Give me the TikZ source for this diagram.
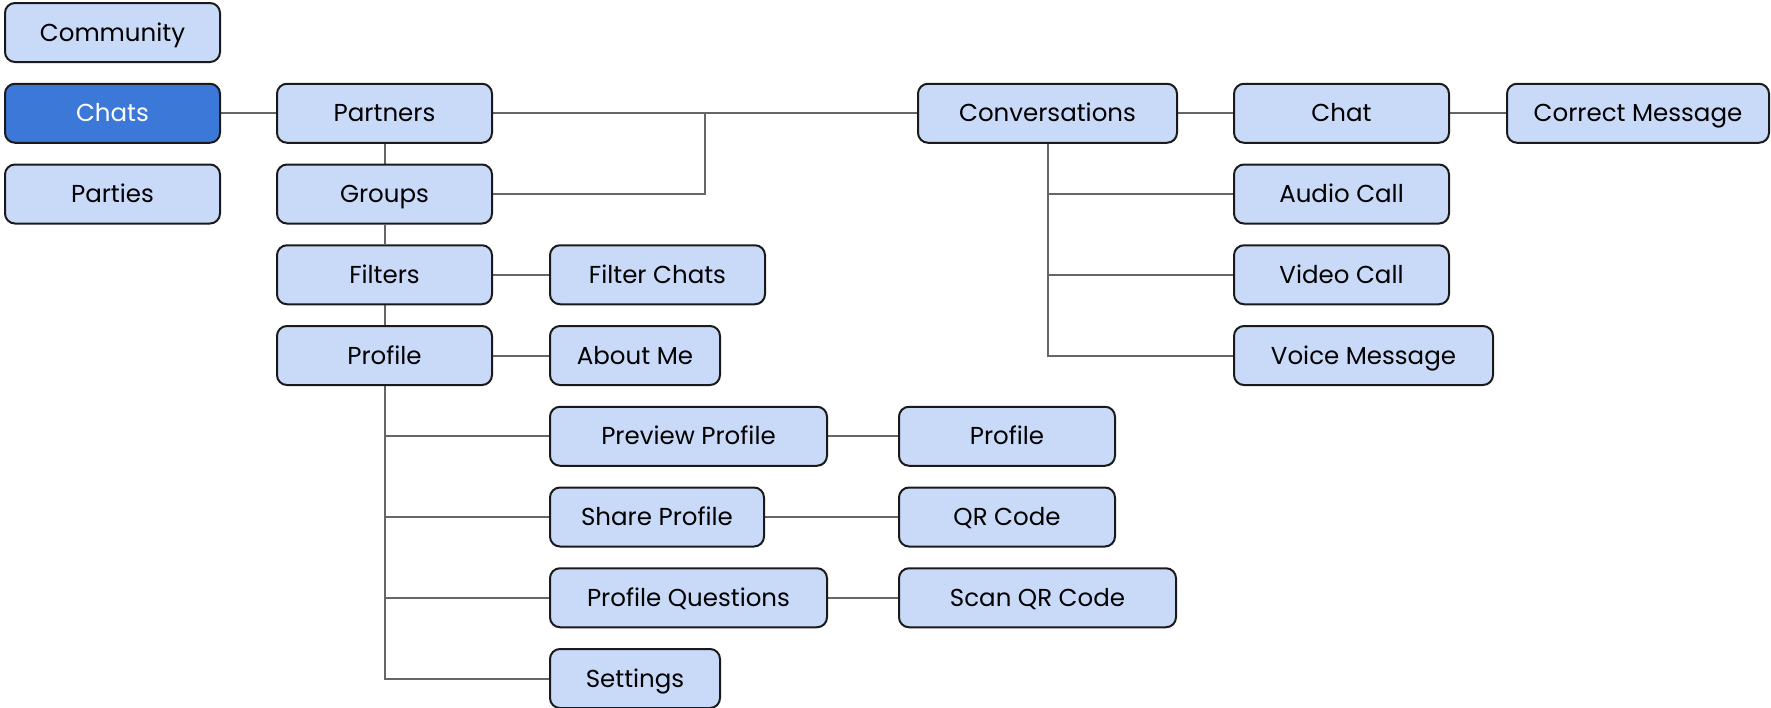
\documentclass[tikz,border=0pt]{standalone}
\usepackage{fontspec}
\setmainfont{Poppins}
\usetikzlibrary{backgrounds}
\definecolor{boxfill}{HTML}{C9DAF8}
\definecolor{boxdark}{HTML}{3C78D8}
\definecolor{boxline}{HTML}{1A1A1A}
\definecolor{connline}{HTML}{666666}
\tikzset{
  box/.style={draw=boxline, line width=2pt, fill=boxfill, rounded corners=10pt,
    minimum height=59pt, inner sep=0pt, font=\fontsize{24.5}{28}\selectfont,
    text height=17pt, text depth=0pt, text=black},
  activebox/.style={box, fill=boxdark, text=white},
  conn/.style={draw=connline, line width=2pt},
}
\begin{document}
\begin{tikzpicture}[x=1pt,y=-1pt]
\useasboundingbox (0,0) rectangle (1771,707);
% column A
\node[box, minimum width=215pt] (community) at (112.5,32.5) {Community};
\node[activebox, minimum width=215pt] (chats) at (112.5,113.25) {Chats};
\node[box, minimum width=215pt] (parties) at (112.5,194) {Parties};
% column B
\node[box, minimum width=215pt] (partners) at (384.5,113.25) {Partners};
\node[box, minimum width=215pt] (groups) at (384.5,194) {Groups};
\node[box, minimum width=215pt] (filters) at (384.5,274.75) {Filters};
\node[box, minimum width=215pt] (profile) at (384.5,355.5) {Profile};
% column C
\node[box, minimum width=215pt] (filterchats) at (657.5,274.75) {Filter Chats};
\node[box, minimum width=170pt] (aboutme) at (635,355.5) {About Me};
\node[box, minimum width=277pt] (preview) at (688.5,436.25) {Preview Profile};
\node[box, minimum width=214pt] (share) at (657,517) {Share Profile};
\node[box, minimum width=277pt] (questions) at (688.5,597.75) {Profile Questions};
\node[box, minimum width=170pt] (settings) at (635,678.5) {Settings};
% column D
\node[box, minimum width=216pt] (profiletwo) at (1007,436.25) {Profile};
\node[box, minimum width=216pt] (qrcode) at (1007,517) {QR Code};
\node[box, minimum width=277pt] (scanqr) at (1037.5,597.75) {Scan QR Code};
% conversations branch
\node[box, minimum width=259pt] (conv) at (1047.5,113.25) {Conversations};
\node[box, minimum width=215pt] (chat) at (1341.5,113.25) {Chat};
\node[box, minimum width=215pt] (audio) at (1341.5,194) {Audio Call};
\node[box, minimum width=215pt] (video) at (1341.5,274.75) {Video Call};
\node[box, minimum width=259pt] (voice) at (1363.5,355.5) {Voice Message};
\node[box, minimum width=262pt] (correct) at (1638,113.25) {Correct Message};
\coordinate (join) at (704.5,113.25);
\begin{scope}[on background layer]
\draw[conn] (chats) -- (partners);
\draw[conn] (partners) -- (groups);
\draw[conn] (groups) -- (filters);
\draw[conn] (filters) -- (profile);
\draw[conn] (filters) -- (filterchats);
\draw[conn] (profile) -- (aboutme);
\draw[conn] (profile.south) |- (preview.west);
\draw[conn] (profile.south) |- (share.west);
\draw[conn] (profile.south) |- (questions.west);
\draw[conn] (profile.south) |- (settings.west);
\draw[conn] (preview) -- (profiletwo);
\draw[conn] (share) -- (qrcode);
\draw[conn] (questions) -- (scanqr);
\draw[conn] (partners) -- (conv);
\draw[conn] (groups.east) -| (join);
\draw[conn] (conv) -- (chat);
\draw[conn] (chat) -- (correct);
\draw[conn] (conv.south) |- (audio.west);
\draw[conn] (conv.south) |- (video.west);
\draw[conn] (conv.south) |- (voice.west);
\end{scope}
\end{tikzpicture}
\end{document}
